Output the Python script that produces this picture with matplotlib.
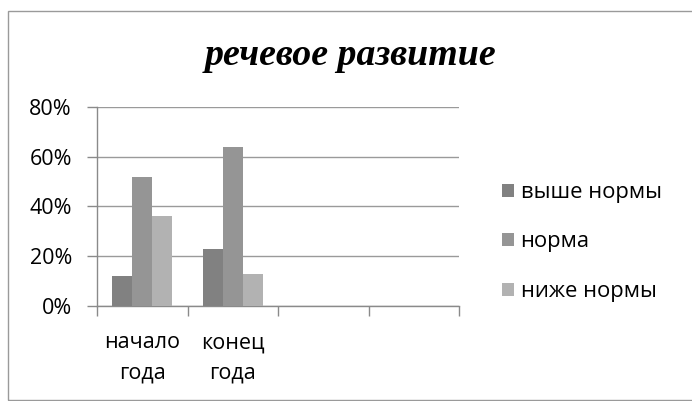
import numpy as np
import matplotlib
matplotlib.use("Agg")
import matplotlib.pyplot as plt
from matplotlib.ticker import PercentFormatter, FixedLocator
from matplotlib.patches import Rectangle

# ---- data ----
categories = ["начало\nгода", "конец\nгода", "", ""]
series_names = ["выше нормы", "норма", "ниже нормы"]
above_norm = [12, 23]
norm = [52, 64]
below_norm = [36, 13]
y_ticks = [0, 20, 40, 60, 80]
title = "речевое развитие"

colors = ["#818181", "#959595", "#b2b2b2"]
plt.rcParams['font.family'] = ['Open Sans', 'DejaVu Sans']

fig = plt.figure(figsize=(6.92, 4.01), dpi=100)
ax = fig.add_axes([97/692, 1-306/401, (459-97)/692, (306-107)/401])

n_groups = len(above_norm)
x = np.arange(n_groups)
w = 0.22
for i, (vals, name, c) in enumerate(zip([above_norm, norm, below_norm], series_names, colors)):
    ax.bar(x + (i-1)*w, vals, width=w, color=c, label=name, zorder=3)

ax.set_xlim(-0.5, len(categories)-0.5)
ax.set_ylim(0, 80)
ax.set_yticks(y_ticks)
ax.yaxis.set_major_formatter(PercentFormatter(decimals=0))
ax.grid(axis='y', color='#9a9a9a', linewidth=1.0, zorder=0)

ax.set_xticks(np.arange(len(categories)))
ax.set_xticklabels(categories, linespacing=1.6)
ax.xaxis.set_minor_locator(FixedLocator(np.arange(len(categories)+1)-0.5))
ax.tick_params(axis='x', which='major', length=0, pad=19, labelsize=15.5, colors='#000000')
ax.tick_params(axis='x', which='minor', length=7, width=1, color='#8a8a8a', direction='out')
ax.tick_params(axis='y', which='major', length=7, width=1, color='#8a8a8a', pad=11,
               labelsize=15.5, labelcolor='#000000')

for s in ['top', 'right']:
    ax.spines[s].set_visible(False)
for s in ['left', 'bottom']:
    ax.spines[s].set_color('#8a8a8a')
    ax.spines[s].set_linewidth(1)

fig.text(351/692, 1-65/401, title, ha='center', va='baseline',
         fontsize=27.3, fontweight='bold', fontstyle='italic',
         family=['Liberation Serif', 'DejaVu Serif'], color='#000000')

leg = ax.legend(loc='center left', bbox_to_anchor=(491/692, 1-242/401),
                bbox_transform=fig.transFigure, frameon=False,
                fontsize=15.8, handlelength=0.55, handleheight=0.55,
                handletextpad=0.3, labelspacing=1.3, borderpad=0)
for t in leg.get_texts():
    t.set_color('#000000')

fig.add_artist(Rectangle((8/692, 1-400/401), 1.2, (400-11)/401,
                         transform=fig.transFigure, fill=False,
                         edgecolor='#9a9a9a', linewidth=1))

fig.savefig("out.png", dpi=100)
